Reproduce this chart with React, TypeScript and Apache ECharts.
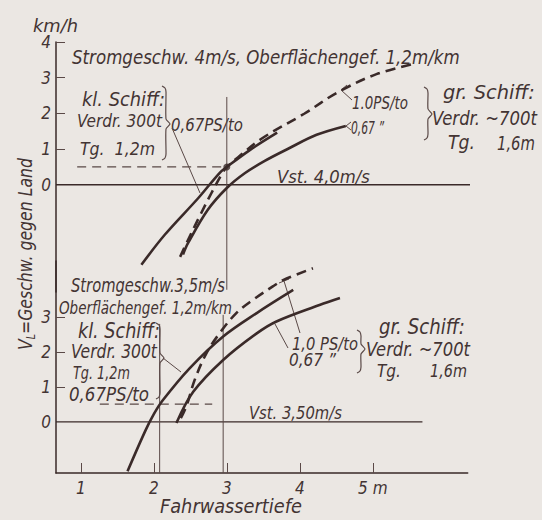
import React, { useEffect, useRef } from 'react';
import * as echarts from 'echarts';

const FONT = "'DejaVu Sans Condensed', 'Liberation Sans Narrow', 'DejaVu Sans', sans-serif";
const INK = '#3a2a29';
const THIN = '#5a4947';
const TEXT = '#433433';
const BG = '#ebe7e3';

// ---- Upper diagram: Stromgeschw. 4 m/s (x = Fahrwassertiefe m, y = km/h) ----
const topKlDepth = [1.83, 2.15, 2.61, 2.90, 3.0, 3.32, 3.69];
const topKlSpeed = [-2.24, -1.40, -0.37, 0.33, 0.50, 0.98, 1.46];
const topGr10Depth = [2.36, 2.47, 2.65, 2.79, 2.95, 3.0, 3.16, 3.49, 4.06, 4.51, 5.05, 5.57];
const topGr10Speed = [-2.02, -1.54, -0.79, -0.23, 0.37, 0.50, 0.78, 1.31, 1.99, 2.58, 3.10, 3.39];
const topGr067Depth = [2.40, 2.47, 2.74, 3.0, 3.25, 3.52, 3.84, 4.23, 4.63];
const topGr067Speed = [-1.95, -1.63, -0.70, -0.09, 0.33, 0.67, 1.01, 1.40, 1.65];

// ---- Lower diagram: Stromgeschw. 3,5 m/s ----
const botKlDepth = [1.64, 1.88, 2.0, 2.12, 2.49, 2.95, 3.41, 3.91];
const botKlSpeed = [-1.41, -0.27, 0.22, 0.61, 1.53, 2.44, 3.11, 3.77];
const botGr10Depth = [2.37, 2.45, 2.56, 2.72, 2.90, 3.13, 3.36, 3.63, 3.77, 4.18];
const botGr10Speed = [0.11, 0.47, 1.20, 1.96, 2.53, 3.11, 3.49, 3.87, 4.05, 4.39];
const botGr067Depth = [2.31, 2.54, 2.95, 3.41, 3.68, 4.27, 4.55];
const botGr067Speed = [-0.03, 0.86, 1.77, 2.53, 2.87, 3.34, 3.54];

// ---- ticks ----
const xTicks = [1, 2, 3, 4, 5];
const yTicksTop = [0, 1, 2, 3, 4];
const yTicksBottom = [0, 1, 2, 3];

// ---- reference lines (values) ----
const X_MIN = 0.66;
const X_MAX = 6.3;
const topZeroEnd = 6.37;
const botZeroEnd = 5.68;
const topMarkSpeed = 0.5; // Vst reached at 3 m depth
const topMarkDepth = 3.0;
const topMarkStart = 0.95;
const topVertical = { x: 3.0, from: -2.94, to: 2.46 };
const botMarkSpeed = 0.51;
const botMarkStart = 1.26;
const botMarkEnd = 2.8;
const botVerticals = [
  { x: 2.08, from: -1.46, to: 2.8 },
  { x: 2.95, from: -1.46, to: 3.06 },
];

const zip = (a: number[], b: number[]) => a.map((v, i) => [v, b[i]]);

type Lab = { t: string; x: number; y: number; w: number; fs: number };
const labels: Lab[] = [
  { t: 'km/h', x: 33, y: 25, w: 45, fs: 18 },
  { t: 'Stromgeschw. 4m/s, Oberflächengef. 1,2m/km', x: 72, y: 57, w: 388, fs: 19 },
  { t: 'kl. Schiff:', x: 82, y: 100, w: 83, fs: 19 },
  { t: 'Verdr. 300t', x: 77, y: 121, w: 85, fs: 18 },
  { t: 'Tg.  1,2m', x: 80, y: 149, w: 75, fs: 18 },
  { t: '0,67PS/to', x: 171, y: 125, w: 72, fs: 18 },
  { t: '1.0PS/to', x: 352, y: 103, w: 56, fs: 17 },
  { t: '0,67 ”', x: 351, y: 128, w: 33, fs: 17 },
  { t: 'gr. Schiff:', x: 443, y: 92, w: 92, fs: 20 },
  { t: 'Verdr. ~700t', x: 432, y: 118, w: 105, fs: 19 },
  { t: 'Tg.', x: 448, y: 143, w: 27, fs: 19 },
  { t: '1,6m', x: 497, y: 143, w: 38, fs: 19 },
  { t: 'Vst. 4,0m/s', x: 277, y: 177, w: 93, fs: 18 },
  { t: 'Stromgeschw.3,5m/s', x: 71, y: 286, w: 154, fs: 19 },
  { t: 'Oberflächengef. 1,2m/km', x: 59, y: 308, w: 173, fs: 18 },
  { t: 'kl. Schiff:', x: 78, y: 331, w: 82, fs: 21 },
  { t: 'Verdr. 300t', x: 71, y: 351, w: 86, fs: 19 },
  { t: 'Tg. 1,2m', x: 73, y: 373, w: 57, fs: 18 },
  { t: '0,67PS/to', x: 69, y: 394, w: 80, fs: 19 },
  { t: '1,0 PS/to', x: 292, y: 344, w: 66, fs: 18 },
  { t: '0,67 ”', x: 289, y: 360, w: 47, fs: 18 },
  { t: 'gr. Schiff:', x: 379, y: 327, w: 86, fs: 21 },
  { t: 'Verdr. ~700t', x: 366, y: 349, w: 104, fs: 19 },
  { t: 'Tg.', x: 377, y: 371, w: 24, fs: 18 },
  { t: '1,6m', x: 430, y: 371, w: 37, fs: 18 },
  { t: 'Vst. 3,50m/s', x: 249, y: 413, w: 93, fs: 18 },
  { t: 'Fahrwassertiefe', x: 160, y: 507, w: 142, fs: 19 },
];

const braces = [
  { x: 166, y0: 86, y1: 160, ym: 124 },
  { x: 428, y0: 87, y1: 140, ym: 114 },
  { x: 160, y0: 323, y1: 399, ym: 358 },
  { x: 361, y0: 330, y1: 373, ym: 349 },
];

const leaders: number[][][] = [
  [[172, 128], [200, 193]],
  [[347, 85], [341, 90], [352, 100]],
  [[351, 122], [346, 126], [351, 130]],
  [[163, 358], [181, 372]],
  [[300, 333], [284, 281]],
  [[279, 283], [289, 279]],
  [[288, 348], [275, 324]],
];

export default function App() {
  const ref = useRef<HTMLDivElement>(null);
  useEffect(() => {
    const el = ref.current!;
    const chart = echarts.init(el, null, { renderer: 'svg' });
    const ctx = document.createElement('canvas').getContext('2d')!;
    const measure = (s: string, fs: number) => {
      ctx.font = `italic ${fs}px ${FONT}`;
      return ctx.measureText(s).width;
    };

    const curve = (name: string, data: number[][], gi: number, dashed = false) => ({
      name,
      type: 'line',
      xAxisIndex: gi,
      yAxisIndex: gi,
      data,
      smooth: 0.35,
      symbol: 'none',
      clip: false,
      silent: true,
      lineStyle: { color: INK, width: 2.6, type: dashed ? [10, 6] : 'solid' },
      z: 5,
    });
    const ref2 = (name: string, data: number[][], gi: number, width: number, dashed = false, color = THIN) => ({
      name,
      type: 'line',
      xAxisIndex: gi,
      yAxisIndex: gi,
      data,
      symbol: 'none',
      clip: false,
      silent: true,
      lineStyle: { color, width, type: dashed ? [9, 6] : 'solid' },
      z: 3,
    });

    const series: any[] = [
      curve('kl. Schiff 0,67 PS/to (4 m/s)', zip(topKlDepth, topKlSpeed), 0),
      curve('gr. Schiff 1,0 PS/to (4 m/s)', zip(topGr10Depth, topGr10Speed), 0, true),
      curve('gr. Schiff 0,67 PS/to (4 m/s)', zip(topGr067Depth, topGr067Speed), 0),
      curve('kl. Schiff 0,67 PS/to (3,5 m/s)', zip(botKlDepth, botKlSpeed), 1),
      curve('gr. Schiff 1,0 PS/to (3,5 m/s)', zip(botGr10Depth, botGr10Speed), 1, true),
      curve('gr. Schiff 0,67 PS/to (3,5 m/s)', zip(botGr067Depth, botGr067Speed), 1),
      ref2('Vst 4,0', [[X_MIN, 0], [topZeroEnd, 0]], 0, 1.4, false, INK),
      ref2('Vst 3,5', [[X_MIN, 0], [botZeroEnd, 0]], 1, 1.4, false, INK),
      ref2('v top', [[topVertical.x, topVertical.from], [topVertical.x, topVertical.to]], 0, 1),
      ref2('h top', [[topMarkStart, topMarkSpeed], [topMarkDepth, topMarkSpeed]], 0, 1.2, true),
      ref2('h bot', [[botMarkStart, botMarkSpeed], [botMarkEnd, botMarkSpeed]], 1, 1.2, true),
      ...botVerticals.map((v, i) => ref2('v bot ' + i, [[v.x, v.from], [v.x, v.to]], 1, 1)),
      {
        name: 'Schnittpunkt',
        type: 'scatter',
        xAxisIndex: 0,
        yAxisIndex: 0,
        data: [[topMarkDepth, topMarkSpeed]],
        symbolSize: 7,
        itemStyle: { color: INK },
        silent: true,
        z: 6,
      },
    ];

    const axisLabel = { fontFamily: FONT, fontStyle: 'italic', fontSize: 17, color: TEXT };
    const graphic: any[] = [];
    labels.forEach((a) => {
      graphic.push({
        type: 'text',
        x: a.x,
        y: a.y,
        scaleX: a.w / measure(a.t, a.fs),
        silent: true,
        style: {
          text: a.t,
          font: `italic ${a.fs}px ${FONT}`,
          fill: TEXT,
          align: 'left',
          verticalAlign: 'middle',
          textAlign: 'left',
          textVerticalAlign: 'middle',
        },
      });
    });
    // rotated y-axis title
    const wTitle = measure('V', 20) + measure('L', 12) + measure('=Geschw. gegen Land', 20);
    const richBase = { fontFamily: FONT, fontStyle: 'italic', color: TEXT };
    graphic.push({
      type: 'text',
      x: 25,
      y: 254,
      rotation: Math.PI / 2,
      scaleX: 192 / wTitle,
      silent: true,
      style: {
        text: '{v|V}{s|L}{m|=Geschw. gegen Land}',
        rich: {
          v: { ...richBase, fontSize: 20, lineHeight: 24 },
          s: { ...richBase, fontSize: 12, lineHeight: 24, verticalAlign: 'bottom' },
          m: { ...richBase, fontSize: 20, lineHeight: 24 },
        },
        fill: TEXT,
        align: 'center',
        verticalAlign: 'middle',
      },
    });
    braces.forEach((b) => {
      graphic.push({
        type: 'polyline',
        silent: true,
        shape: {
          points: [
            [b.x - 4, b.y0],
            [b.x - 1, b.y0 + 2],
            [b.x, b.y0 + 6],
            [b.x, b.ym - 5],
            [b.x + 4, b.ym],
            [b.x, b.ym + 5],
            [b.x, b.y1 - 6],
            [b.x - 1, b.y1 - 2],
            [b.x - 4, b.y1],
          ],
          smooth: 0.2,
        },
        style: { stroke: THIN, lineWidth: 1.2, fill: 'none' },
      });
    });
    leaders.forEach((pts) => {
      graphic.push({
        type: 'polyline',
        silent: true,
        shape: { points: pts },
        style: { stroke: THIN, lineWidth: 1, fill: 'none' },
      });
    });

    const yAxisBase = (min: number, max: number, ticks: number[]) => ({
      type: 'value',
      min,
      max,
      splitLine: { show: false },
      axisLine: { show: true, onZero: false, lineStyle: { color: INK, width: 1.5 } },
      axisTick: { show: true, inside: true, length: 9, customValues: ticks.filter((t) => t !== 0), lineStyle: { color: THIN, width: 1 } },
      axisLabel: { ...axisLabel, margin: 5, customValues: ticks },
    });

    chart.setOption({
      animation: false,
      backgroundColor: BG,
      grid: [
        { left: 56, width: 411.7, top: 42, height: 249.9 },
        { left: 56, width: 411.7, top: 260.9, height: 212.1 },
      ],
      xAxis: [
        { type: 'value', gridIndex: 0, min: X_MIN, max: X_MAX, show: false },
        {
          type: 'value',
          gridIndex: 1,
          min: X_MIN,
          max: X_MAX,
          splitLine: { show: false },
          axisLine: { show: true, onZero: false, lineStyle: { color: INK, width: 1.5 } },
          axisTick: { show: true, inside: true, length: 10, customValues: xTicks, lineStyle: { color: THIN, width: 1 } },
          axisLabel: {
            ...axisLabel,
            margin: 6,
            customValues: xTicks,
            formatter: (v: number) => (v === 5 ? '5 m' : String(v)),
          },
        },
      ],
      yAxis: [
        { gridIndex: 0, ...yAxisBase(-3, 4, yTicksTop) },
        { gridIndex: 1, ...yAxisBase(-1.46, 4.6, yTicksBottom) },
      ],
      series,
      graphic,
    });
    return () => chart.dispose();
  }, []);
  return <div ref={ref} style={{ position: 'fixed', left: 0, top: 0, width: 542, height: 520 }} />;
}
